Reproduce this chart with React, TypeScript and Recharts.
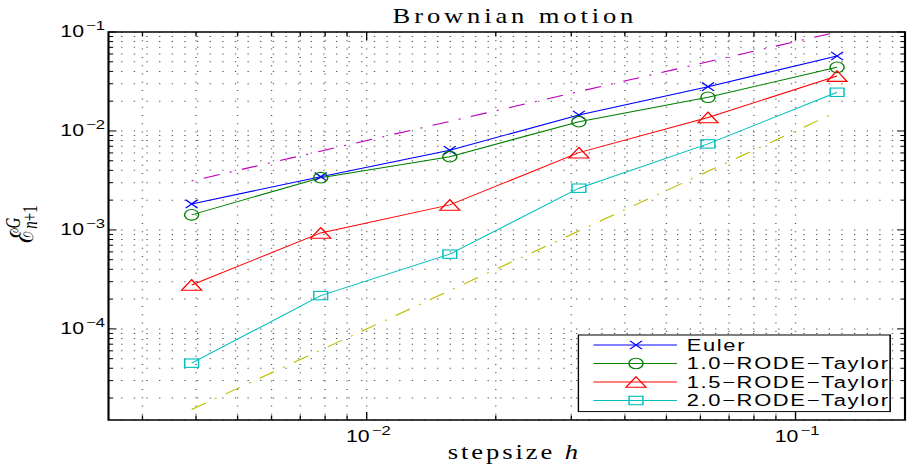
import { LineChart, Line, XAxis, YAxis, CartesianGrid, ReferenceArea } from 'recharts'

// step sizes h = 1/256 ... 1/8
const STEPS = [0.00390625, 0.0078125, 0.015625, 0.03125, 0.0625, 0.125]

// mean error per scheme
const EULER = [1.83e-3, 3.45e-3, 6.38e-3, 1.45e-2, 2.8e-2, 5.72e-2]
const RODE_10 = [1.42e-3, 3.37e-3, 5.5e-3, 1.24e-2, 2.19e-2, 4.4e-2]
const RODE_15 = [2.78e-4, 9.33e-4, 1.79e-3, 6.04e-3, 1.37e-2, 3.59e-2]
const RODE_20 = [4.5e-5, 2.17e-4, 5.69e-4, 2.64e-3, 7.4e-3, 2.46e-2]

// reference slopes (order 1 and order 2)
const ORDER_1 = [0.003125, 0.00625, 0.0125, 0.025, 0.05, 0.1]
const ORDER_2 = [1.53e-5, 6.1e-5, 2.44e-4, 9.77e-4, 3.91e-3, 1.56e-2]

const X_DOMAIN = [0.0025, 0.18]
const Y_DOMAIN = [1.2e-5, 0.1]
const X_DECADES = [0.001, 0.01, 0.1]
const Y_DECADES = [1e-5, 1e-4, 1e-3, 1e-2, 0.1]

type Shape = 'x' | 'circle' | 'triangle' | 'square'

const SERIES: { key: string; name: string; color: string; shape: Shape; values: number[] }[] = [
  { key: 'euler', name: 'Euler', color: '#0000ff', shape: 'x', values: EULER },
  { key: 'rode10', name: '1.0\u2212RODE\u2212Taylor', color: '#008000', shape: 'circle', values: RODE_10 },
  { key: 'rode15', name: '1.5\u2212RODE\u2212Taylor', color: '#ff0000', shape: 'triangle', values: RODE_15 },
  { key: 'rode20', name: '2.0\u2212RODE\u2212Taylor', color: '#00bfbf', shape: 'square', values: RODE_20 },
]

const REFS = [
  { key: 'order1', color: '#bf00bf', dash: '1.5 8 12.5 8', values: ORDER_1 },
  { key: 'order2', color: '#bfbf00', dash: '12.5 8 1.5 8', values: ORDER_2 },
]

const data = STEPS.map((h, i) => {
  const row: Record<string, number> = { h }
  SERIES.forEach((s) => (row[s.key] = s.values[i]))
  REFS.forEach((r) => (row[r.key] = r.values[i]))
  return row
})

// 1..9 times each decade, kept inside the axis range
const logTicks = (decades: number[], domain: number[]) =>
  decades
    .flatMap((d) => [1, 2, 3, 4, 5, 6, 7, 8, 9].map((m) => +(m * d).toPrecision(3)))
    .filter((v) => v >= domain[0] && v <= domain[1])

const X_TICKS = logTicks(X_DECADES, X_DOMAIN)
const Y_TICKS = logTicks(Y_DECADES, Y_DOMAIN)

const isDecade = (v: number) => Math.abs(Math.log10(v) - Math.round(Math.log10(v))) < 1e-9

// the figure is drawn narrow and widened as a whole
const SX = 1.33
const W = 682
const HGT = 468
const MARGIN = { top: 32, right: 1.55, bottom: 0, left: 0 }
const Y_AXIS_W = 81.58
const X_AXIS_H = 48
const PLOT_W = W - MARGIN.right - MARGIN.left - Y_AXIS_W
const PLOT_H = HGT - MARGIN.top - MARGIN.bottom - X_AXIS_H

const SANS = "'Liberation Sans', Arial, sans-serif"
const SERIF = "'Liberation Serif', 'Times New Roman', serif"

function Marker({ cx, cy, shape, color }: { cx: number; cy: number; shape: Shape; color: string }) {
  const common = { stroke: color, strokeWidth: 1.1, fill: 'none' }
  switch (shape) {
    case 'x':
      return (
        <path
          d={`M${cx - 4.5},${cy - 4.2}L${cx + 4.5},${cy + 4.2}M${cx - 4.5},${cy + 4.2}L${cx + 4.5},${cy - 4.2}`}
          {...common}
        />
      )
    case 'circle':
      return <circle cx={cx} cy={cy} r={5.3} {...common} />
    case 'triangle':
      return <path d={`M${cx},${cy - 5.3}L${cx + 7.5},${cy + 5.3}L${cx - 7.5},${cy + 5.3}Z`} {...common} />
    default:
      return <rect x={cx - 5.2} y={cy - 4.2} width={10.4} height={8.4} {...common} />
  }
}

function Power({ v }: { v: number }) {
  return (
    <>
      10
      <tspan dx={1.6} dy={-7} fontSize={12.5}>
        {'\u2212' + Math.abs(Math.round(Math.log10(v)))}
      </tspan>
    </>
  )
}

function XTick(props: any) {
  const { x, y, payload } = props
  const major = isDecade(payload.value)
  const len = major ? 8 : 4.5
  const top = y - PLOT_H
  return (
    <g>
      <line x1={x} y1={y} x2={x} y2={y - len} stroke="#000" strokeWidth={1} />
      <line x1={x} y1={top} x2={x} y2={top + len} stroke="#000" strokeWidth={1} />
      {major && (
        <text x={x + 1.2} y={y + 22} textAnchor="middle" fontFamily={SANS} fontSize={16} fill="#000">
          <Power v={payload.value} />
        </text>
      )}
    </g>
  )
}

function YTick(props: any) {
  const { x, y, payload } = props
  const major = isDecade(payload.value)
  const len = major ? 6 : 3.5
  const right = x + PLOT_W
  return (
    <g>
      <line x1={x} y1={y} x2={x + len} y2={y} stroke="#000" strokeWidth={1} />
      <line x1={right} y1={y} x2={right - len} y2={y} stroke="#000" strokeWidth={1} />
      {major && (
        <text x={x - 2.6} y={y + 5.5} textAnchor="end" fontFamily={SANS} fontSize={16} fill="#000">
          <Power v={payload.value} />
        </text>
      )}
    </g>
  )
}

const gridLine = (dash: string) => (p: any) =>
  <line key={p.key} x1={p.x1} y1={p.y1} x2={p.x2} y2={p.y2} stroke="#555" strokeWidth={1} strokeDasharray={dash} />

const LEG = { x: 434.2, y: 334.3, w: 235.7, h: 78, row: 18.5, first: 10.7 }

function LegendBox() {
  return (
    <svg x={LEG.x} y={LEG.y} width={LEG.w} height={LEG.h} overflow="hidden">
      <rect x={0} y={0} width={LEG.w} height={LEG.h} fill="#fff" />
      {SERIES.map((s, i) => {
        const cy = LEG.first + i * LEG.row
        return (
          <g key={s.key}>
            <line x1={12} y1={cy} x2={74.8} y2={cy} stroke={s.color} strokeWidth={1} />
            <Marker cx={44} cy={cy} shape={s.shape} color={s.color} />
            <text x={82.1} y={cy + 5.8} fontFamily={SANS} fontSize={16.5} letterSpacing={1.25} fill="#000">
              {s.name}
            </text>
          </g>
        )
      })}
      <rect x={0.6} y={0.6} width={LEG.w - 1.2} height={LEG.h - 1.2} fill="none" stroke="#000" strokeWidth={1.2} />
    </svg>
  )
}

export default function App() {
  return (
    <div
      style={{
        position: 'absolute',
        left: 0,
        top: 0,
        width: W,
        height: HGT,
        transform: `scaleX(${SX})`,
        transformOrigin: '0 0',
        background: '#fff',
      }}
    >
      <LineChart width={W} height={HGT} data={data} margin={MARGIN}>
        <CartesianGrid vertical={gridLine('1 7.3')} horizontal={gridLine('1 8.5')} />
        <XAxis
          dataKey="h"
          type="number"
          scale="log"
          domain={X_DOMAIN}
          allowDataOverflow
          ticks={X_TICKS}
          interval={0}
          height={X_AXIS_H}
          axisLine={false}
          tickLine={false}
          tickSize={0}
          tickMargin={0}
          tick={(p: any) => <XTick {...p} />}
        />
        <YAxis
          type="number"
          scale="log"
          domain={Y_DOMAIN}
          allowDataOverflow
          ticks={Y_TICKS}
          interval={0}
          width={Y_AXIS_W}
          axisLine={false}
          tickLine={false}
          tickSize={0}
          tickMargin={0}
          tick={(p: any) => <YTick {...p} />}
        />
        {REFS.map((r) => (
          <Line
            key={r.key}
            dataKey={r.key}
            type="linear"
            stroke={r.color}
            strokeWidth={1.1}
            strokeDasharray={r.dash}
            dot={false}
            activeDot={false}
            isAnimationActive={false}
          />
        ))}
        {SERIES.map((s) => (
          <Line
            key={s.key}
            dataKey={s.key}
            name={s.name}
            type="linear"
            stroke={s.color}
            strokeWidth={1}
            dot={(p: any) => <Marker key={p.index} cx={p.cx} cy={p.cy} shape={s.shape} color={s.color} />}
            activeDot={false}
            isAnimationActive={false}
          />
        ))}
        <ReferenceArea
          x1={X_DOMAIN[0]}
          x2={X_DOMAIN[1]}
          y1={Y_DOMAIN[0]}
          y2={Y_DOMAIN[1]}
          fill="none"
          stroke="#000"
          strokeWidth={1.6}
          ifOverflow="visible"
        />
      </LineChart>
      <svg
        width={W}
        height={HGT}
        style={{ position: 'absolute', left: 0, top: 0, pointerEvents: 'none' }}
      >
        <text x={385.7} y={23} textAnchor="middle" fontFamily={SERIF} fontSize={20} textLength={181} lengthAdjust="spacing">
          Brownian motion
        </text>
        <text x={385.7} y={459} textAnchor="middle" fontFamily={SERIF} fontSize={20} textLength={98} lengthAdjust="spacing">
          stepsize <tspan fontStyle="italic">h</tspan>
        </text>
        <text transform="translate(25, 243) rotate(-90)" fontFamily={SERIF} fontSize={24}>
          <tspan fontFamily="'DejaVu Serif', serif">{'\u2130'}</tspan>
          <tspan dy={-10} fontSize={15} fontStyle="italic">G</tspan>
          <tspan dx={-11} dy={13} fontSize={15} fontStyle="italic">n</tspan>
          <tspan fontSize={15}>+1</tspan>
        </text>
        <LegendBox />
      </svg>
    </div>
  )
}
